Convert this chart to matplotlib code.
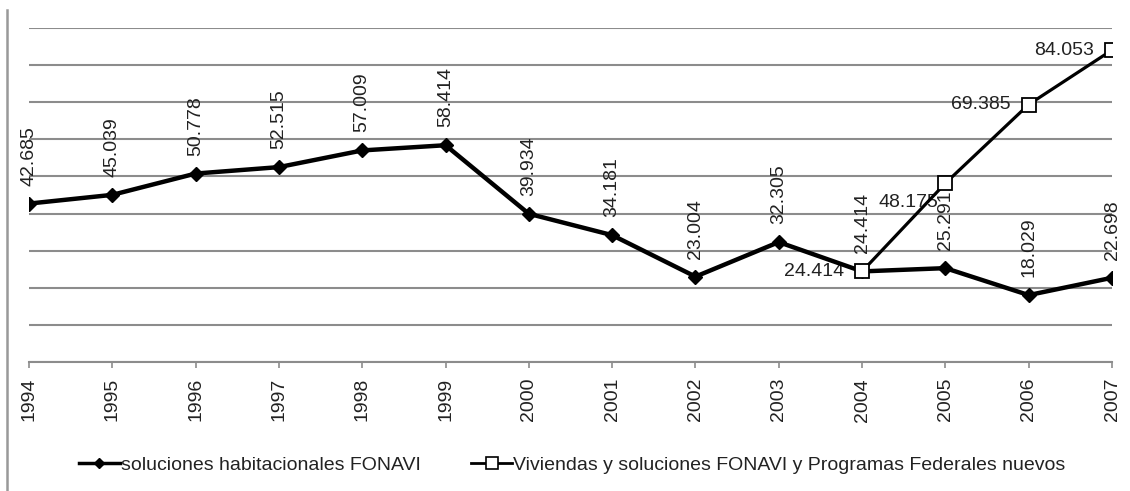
import matplotlib
matplotlib.use('Agg')
import matplotlib.pyplot as plt
import numpy as np
from matplotlib.lines import Line2D

plt.rcParams['font.family'] = ['Liberation Sans', 'DejaVu Sans']

years = ['1994', '1995', '1996', '1997', '1998', '1999', '2000',
         '2001', '2002', '2003', '2004', '2005', '2006', '2007']
fonavi = [42.685, 45.039, 50.778, 52.515, 57.009, 58.414, 39.934,
          34.181, 23.004, 32.305, 24.414, 25.291, 18.029, 22.698]
fed_years = ['2004', '2005', '2006', '2007']
federales = [24.414, 48.175, 69.385, 84.053]

label1 = 'soluciones habitacionales FONAVI'
label2 = 'Viviendas y soluciones FONAVI y Programas Federales nuevos'

W, H = 1130, 491
fig = plt.figure(figsize=(W / 100, H / 100), dpi=100)
ax = fig.add_axes([29 / W, (H - 362) / H, (1112 - 29) / W, (362 - 28) / H])

x1 = np.arange(len(years))
x2 = np.array([years.index(y) for y in fed_years])

gridc = '#8c8c8c'
textc = '#222222'

ax.plot(x1, fonavi, color='black', lw=3.2, marker='D', ms=7.5,
        mfc='black', mec='black', zorder=3, label=label1)
ax.plot(x2, federales, color='black', lw=2.3, marker='s', ms=10.5,
        mfc='white', mec='black', mew=1.3, zorder=4, label=label2)

for xi, v in zip(x1, fonavi):
    ax.annotate(f'{v:.3f}', (xi, v), xytext=(0, 18), textcoords='offset pixels',
                rotation=90, ha='center', va='bottom', fontsize=14, color=textc)

offsets = [(-18, 0), (-7, -19), (-18, 0), (-18, 0)]
for xi, v, off in zip(x2, federales, offsets):
    ax.annotate(f'{v:.3f}', (xi, v), xytext=off, textcoords='offset pixels',
                ha='right', va='center', fontsize=14, color=textc, zorder=2)

ax.set_xlim(0, 13)
ax.set_ylim(0, 90)
ax.set_yticks(np.arange(0, 91, 10))
ax.yaxis.grid(True, color=gridc, lw=1.5)
ax.set_axisbelow(True)
ax.tick_params(axis='y', left=False, labelleft=False)
ax.set_xticks(x1)
ax.set_xticklabels(years, rotation=90, fontsize=14, color=textc)
ax.tick_params(axis='x', length=4.5, width=1.2, color=gridc, pad=7)
for s in ['left', 'right', 'top']:
    ax.spines[s].set_visible(False)
ax.spines['bottom'].set_color(gridc)
ax.spines['bottom'].set_linewidth(1.5)

# left frame line of the original picture
fig.add_artist(Line2D([7 / W, 7 / W], [0, (H - 10) / H], color='#999999', lw=1.8))

handles = [Line2D([], [], color='black', lw=2.5, marker='D', ms=5, mfc='black'),
           Line2D([], [], color='black', lw=2.0, marker='s', ms=9, mfc='white', mew=1.2)]
fig.legend(handles, [label1, label2], loc='center', bbox_to_anchor=(572 / W, (H - 465) / H),
           ncol=2, frameon=False, fontsize=14, handlelength=2.1, handletextpad=0.05,
           columnspacing=2.6, labelcolor=textc)

fig.savefig('out.png', dpi=100)
